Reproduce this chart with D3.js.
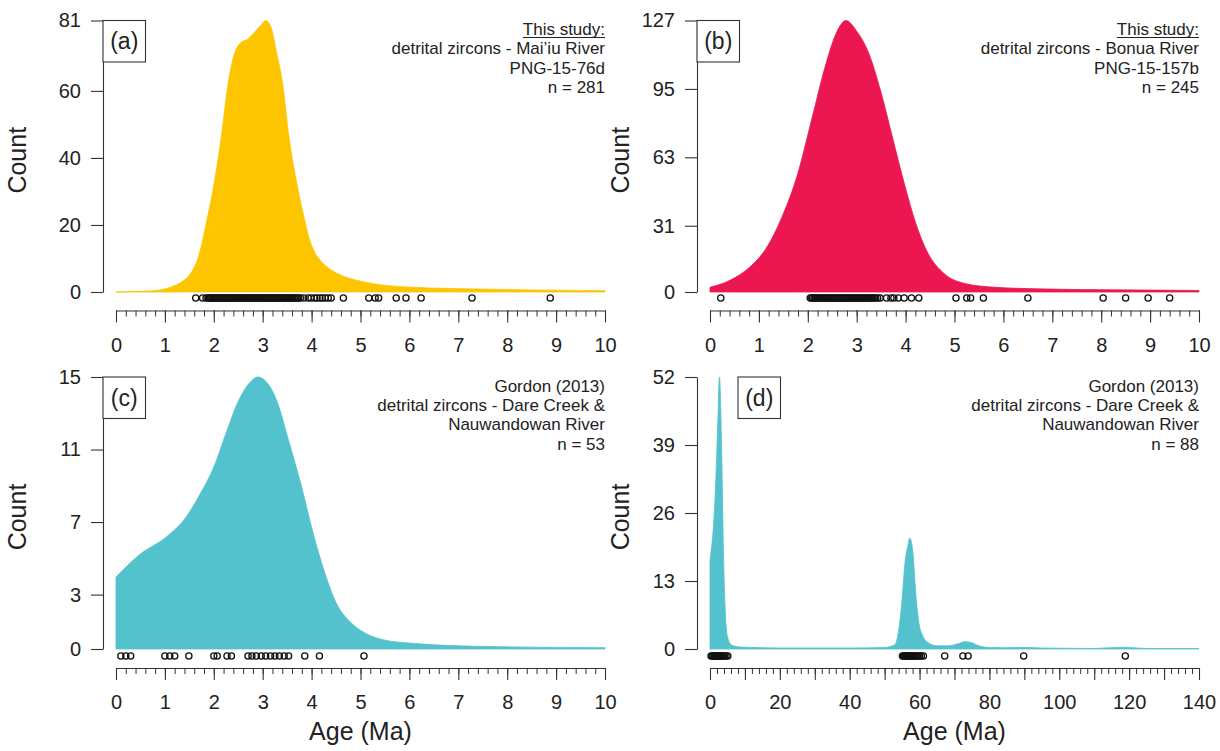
<!DOCTYPE html>
<html>
<head>
<meta charset="utf-8">
<script src="https://cdn.jsdelivr.net/npm/d3@7"></script>
<style>
  html, body { margin: 0; padding: 0; background: #fff; }
  svg { display: block; font-family: "Liberation Sans", Arial, sans-serif; }
</style>
</head>
<body>
<svg id="chart" width="1220" height="751"></svg>
<script>
// ---------------- DATA ----------------
// Density curves: [age (Ma), count]
const densityA = [[0,0.05],[0.7,0.3],[1.0,0.9],[1.18,1.8],[1.3,2.6],[1.4,3.6],[1.5,5.0],[1.6,7.4],[1.67,9.8],[1.75,14],[1.83,19.5],[1.99,31],[2.16,47],[2.28,61],[2.4,70],[2.56,74.5],[2.68,75.3],[2.8,77],[2.96,79.5],[3.06,81],[3.17,79],[3.29,71],[3.41,62],[3.53,47],[3.69,33],[3.85,22],[3.95,16],[4.05,12.2],[4.15,9.9],[4.25,8.3],[4.4,6.6],[4.6,5.0],[4.9,3.6],[5.39,2.2],[6.1,1.4],[7.33,0.9],[8.54,0.6],[10,0.4]];
const densityB = [[0,2.2],[0.42,5.6],[0.82,11.8],[1.15,20.5],[1.47,35],[1.79,55],[2.11,83.5],[2.35,105],[2.6,122],[2.78,127],[3.0,122],[3.25,111.5],[3.49,94],[3.73,72.5],[3.97,51],[4.21,32],[4.46,18],[4.78,8.8],[5.19,4.1],[5.83,2.2],[6.65,1.5],[8.27,1.0],[10,0.7]];
const densityC = [[0,3.97],[0.48,5.2],[1.04,6.2],[1.44,7.3],[1.69,8.4],[2.01,10.1],[2.25,11.9],[2.49,13.6],[2.74,14.7],[2.9,15],[3.14,14.5],[3.3,13.6],[3.54,11.4],[3.79,9.0],[4.03,6.4],[4.27,4.2],[4.51,2.5],[4.75,1.6],[5.08,0.9],[5.48,0.5],[6.13,0.3],[7.34,0.15],[10,0.07]];
const densityD = [[0,17],[0.2,18],[1.0,23.6],[1.6,31.3],[2.2,42.7],[2.7,52],[3.3,39.5],[3.8,20.3],[4.4,6.9],[5.0,2.4],[6.1,0.8],[8.4,0.4],[20,0.2],[40,0.2],[50,0.3],[52.9,0.8],[54,3.5],[55,9.5],[55.9,17],[56.6,19.6],[57.2,21.2],[58.1,18.4],[58.9,10.7],[59.8,5],[61,2.4],[62.7,1.1],[65,0.6],[68,0.6],[71,1.0],[73,1.4],[75,1.2],[77,0.6],[80,0.3],[85,0.25],[90,0.3],[95,0.2],[100,0.15],[110,0.1],[118,0.35],[120,0.3],[125,0.1],[140,0.1]];

// Individual grain ages (open circles)
const agesA = [1.63,1.77,1.84,1.88,1.91,1.93,1.96,1.99,2.01,2.04,2.07,2.09,2.12,2.15,2.17,2.2,2.23,2.25,2.28,2.31,2.33,2.36,2.39,2.41,2.44,2.47,2.49,2.52,2.55,2.57,2.6,2.63,2.65,2.68,2.71,2.73,2.76,2.79,2.81,2.84,2.87,2.89,2.92,2.95,2.97,3.0,3.03,3.05,3.08,3.11,3.13,3.16,3.19,3.21,3.24,3.27,3.29,3.32,3.35,3.37,3.4,3.43,3.45,3.48,3.51,3.53,3.56,3.59,3.61,3.64,3.67,3.7,3.73,3.77,3.84,3.93,3.99,4.06,4.11,4.17,4.22,4.28,4.34,4.4,4.65,5.17,5.3,5.37,5.73,5.93,6.24,7.28,8.88];
const agesB = [0.22,2.05,2.08,2.1,2.13,2.16,2.18,2.21,2.24,2.26,2.29,2.32,2.34,2.37,2.4,2.42,2.45,2.48,2.5,2.53,2.56,2.58,2.61,2.64,2.66,2.69,2.72,2.74,2.77,2.8,2.82,2.85,2.88,2.9,2.93,2.96,2.98,3.01,3.04,3.06,3.09,3.12,3.14,3.17,3.2,3.22,3.25,3.28,3.3,3.33,3.36,3.39,3.43,3.48,3.61,3.7,3.76,3.85,3.97,4.12,4.27,5.03,5.25,5.33,5.59,6.5,8.04,8.5,8.96,9.4];
const agesC = [0.1,0.2,0.3,1.0,1.1,1.2,1.49,2.0,2.07,2.27,2.36,2.7,2.78,2.87,2.97,3.06,3.16,3.25,3.34,3.44,3.53,3.86,4.16,5.07];
const agesD = [0.3,0.6,0.9,1.2,1.5,1.8,2.1,2.3,2.6,2.9,3.2,3.5,3.8,4.2,4.6,5.1,55.1,55.4,55.7,56.0,56.3,56.6,56.9,57.2,57.5,57.8,58.1,58.4,58.8,59.2,59.6,60.0,60.5,61.1,67.2,72.4,73.9,89.8,118.9];

// Axis ticks / labels
const yTicksA = [0,20,40,60,81];
const yTicksB = [0,31,63,95,127];
const yTicksC = [0,3,7,11,15];
const yTicksD = [0,13,26,39,52];
const xLabels10 = [0,1,2,3,4,5,6,7,8,9,10];
const xLabels140 = [0,20,40,60,80,100,120,140];

const panelTags = ["(a)","(b)","(c)","(d)"];
const notesA = ["This study:","detrital zircons - Mai\u2019iu River","PNG-15-76d","n = 281"];
const notesB = ["This study:","detrital zircons - Bonua River","PNG-15-157b","n = 245"];
const notesC = ["Gordon (2013)","detrital zircons - Dare Creek &","Nauwandowan River","n = 53"];
const notesD = ["Gordon (2013)","detrital zircons - Dare Creek &","Nauwandowan River","n = 88"];
const colors = ["#FDC500","#EC1650","#53C2CC","#53C2CC"];

// ---------------- LAYOUT ----------------
const svg = d3.select("#chart");
const ink = "#222";
const cols = [{axisX:103, x0:116, x1:605, yLab:18}, {axisX:697, x0:710, x1:1199, yLab:621}];
const rows = [{yTop:20.5, yBot:292, xAxisY:310.5, ptY:298}, {yTop:377, yBot:649, xAxisY:668, ptY:656}];

const panels = [
  {col:0,row:0,dens:densityA,ages:agesA,yTicks:yTicksA,xMax:10,xLabels:xLabels10,minor:0.2,major:1,tag:panelTags[0],notes:notesA,underline:true,color:colors[0],tagX:103},
  {col:1,row:0,dens:densityB,ages:agesB,yTicks:yTicksB,xMax:10,xLabels:xLabels10,minor:0.2,major:1,tag:panelTags[1],notes:notesB,underline:true,color:colors[1],tagX:697},
  {col:0,row:1,dens:densityC,ages:agesC,yTicks:yTicksC,xMax:10,xLabels:xLabels10,minor:0.2,major:1,tag:panelTags[2],notes:notesC,underline:false,color:colors[2],tagX:103},
  {col:1,row:1,dens:densityD,ages:agesD,yTicks:yTicksD,xMax:140,xLabels:xLabels140,minor:2,major:10,tag:panelTags[3],notes:notesD,underline:false,color:colors[3],tagX:738}
];

panels.forEach(p => {
  const c = cols[p.col], r = rows[p.row];
  const x = d3.scaleLinear().domain([0, p.xMax]).range([c.x0, c.x1]);
  const yMax = d3.max(p.yTicks);
  const y = d3.scaleLinear().domain([0, yMax]).range([r.yBot, r.yTop]);
  const g = svg.append("g");

  // density area
  const area = d3.area().x(d => x(d[0])).y0(y(0)).y1(d => y(d[1])).curve(d3.curveMonotoneX);
  g.append("path").datum(p.dens).attr("d", area).attr("fill", p.color).attr("stroke", p.color).attr("stroke-width", 0.8);

  // y axis
  const yAx = d3.axisLeft(y).tickValues(p.yTicks).tickSize(12).tickPadding(10).tickSizeOuter(0).tickFormat(d3.format("d"));
  const ya = g.append("g").attr("transform", `translate(${c.axisX},0)`).call(yAx);
  ya.select(".domain").attr("stroke", "#333").attr("stroke-width", 1.1);
  ya.selectAll(".tick line").attr("stroke", "#333").attr("stroke-width", 1.1);
  ya.selectAll(".tick text").attr("fill", ink).style("font-size", "20px").style("font-family", "Liberation Sans, Arial, sans-serif");

  // x axis: minor ticks
  const minorTicks = d3.range(0, p.xMax + 1e-9, p.minor).map(v => +v.toFixed(4));
  const xMinor = d3.axisBottom(x).tickValues(minorTicks).tickSize(6).tickFormat("").tickSizeOuter(0);
  const xm = g.append("g").attr("transform", `translate(0,${r.xAxisY})`).call(xMinor);
  xm.select(".domain").attr("stroke", "#333").attr("stroke-width", 1.1);
  xm.selectAll(".tick line").attr("stroke", "#333").attr("stroke-width", 1);
  const majorTicks = d3.range(0, p.xMax + 1e-9, p.major);
  const xMajor = d3.axisBottom(x).tickValues(majorTicks).tickSize(12).tickFormat("").tickSizeOuter(0);
  const xM = g.append("g").attr("transform", `translate(0,${r.xAxisY})`).call(xMajor);
  xM.select(".domain").remove();
  xM.selectAll(".tick line").attr("stroke", "#333").attr("stroke-width", 1.1);
  // x labels
  const xLab = d3.axisBottom(x).tickValues(p.xLabels).tickSize(0).tickPadding(27).tickSizeOuter(0);
  const xl = g.append("g").attr("transform", `translate(0,${r.xAxisY})`).call(xLab);
  xl.select(".domain").remove();
  xl.selectAll(".tick text").attr("fill", ink).style("font-size", "20px").style("font-family", "Liberation Sans, Arial, sans-serif");

  // points
  g.append("g").selectAll("circle").data(p.ages).join("circle")
    .attr("cx", d => x(d)).attr("cy", r.ptY).attr("r", 3.1)
    .attr("fill", "none").attr("stroke", "#111").attr("stroke-width", 1.3);

  // Count label
  g.append("text").attr("transform", `translate(${c.yLab + 8},${(r.yTop + r.yBot) / 2 + 4}) rotate(-90)`)
    .attr("text-anchor", "middle").attr("fill", ink).style("font-size", "25px").text("Count");

  // tag box
  const bw = 42.5, bh = 41.5;
  g.append("rect").attr("x", p.tagX).attr("y", r.yTop).attr("width", bw).attr("height", bh)
    .attr("fill", "#fff").attr("stroke", "#333").attr("stroke-width", 1.1);
  g.append("text").attr("x", p.tagX + bw / 2).attr("y", r.yTop + bh / 2 + 8).attr("text-anchor", "middle")
    .attr("fill", ink).style("font-size", "23px").text(p.tag);

  // notes
  p.notes.forEach((t, i) => {
    const tx = g.append("text").attr("x", c.x1).attr("y", r.yTop + 14.5 + i * 19.4).attr("text-anchor", "end")
      .attr("fill", ink).style("font-size", "17px").text(t);
    if (i === 0 && p.underline) {
      const w = tx.node().getComputedTextLength();
      g.append("line").attr("x1", c.x1 - w).attr("x2", c.x1).attr("y1", r.yTop + 17).attr("y2", r.yTop + 17)
        .attr("stroke", ink).attr("stroke-width", 1);
    }
  });

  // Age label (bottom row)
  if (p.row === 1) {
    g.append("text").attr("x", (c.x0 + c.x1) / 2).attr("y", 740).attr("text-anchor", "middle")
      .attr("fill", ink).style("font-size", "25px").text("Age (Ma)");
  }
});
</script>
</body>
</html>
